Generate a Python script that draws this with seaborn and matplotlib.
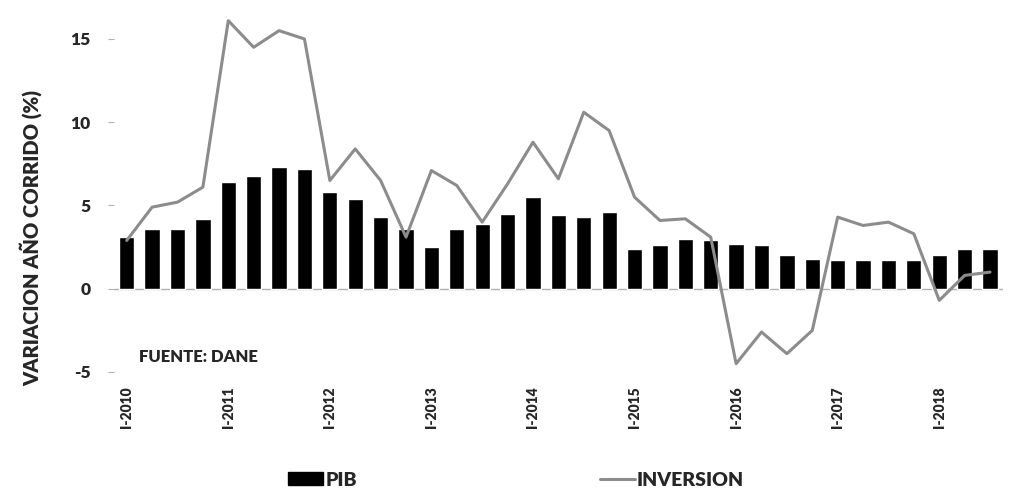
import numpy as np
import pandas as pd
import seaborn as sns
import matplotlib.pyplot as plt
from matplotlib.patches import Patch
from matplotlib.lines import Line2D

# quarterly data, I-2010 .. III-2018
roman = ["I", "II", "III", "IV"]
years = list(range(2010, 2019))
quarters = [f"{r}-{y}" for y in years for r in roman][:35]

pib = [3.1, 3.6, 3.6, 4.2, 6.4, 6.8, 7.3, 7.2, 5.8, 5.4, 4.3, 3.6,
       2.5, 3.6, 3.9, 4.5, 5.5, 4.4, 4.3, 4.6, 2.4, 2.6, 3.0, 2.9,
       2.7, 2.6, 2.0, 1.8, 1.7, 1.7, 1.7, 1.7, 2.0, 2.4, 2.4]
inversion = [2.9, 4.9, 5.2, 6.1, 16.1, 14.5, 15.5, 15.0, 6.5, 8.4, 6.5, 3.1,
             7.1, 6.2, 4.0, 6.3, 8.8, 6.6, 10.6, 9.5, 5.5, 4.1, 4.2, 3.1,
             -4.5, -2.6, -3.9, -2.5, 4.3, 3.8, 4.0, 3.3, -0.7, 0.8, 1.0]

df = pd.DataFrame({"pos": np.arange(len(quarters)), "trimestre": quarters,
                   "PIB": pib, "INVERSION": inversion})

sns.set_style("white")
plt.rcParams['font.family'] = ['Lato', 'DejaVu Sans']

W = "heavy"
fig = plt.figure(figsize=(10.18, 5.0), dpi=100)
ax = fig.add_axes([0.112, 0.256, 0.873, 0.744])

sns.barplot(data=df, x="pos", y="PIB", native_scale=True, color="black",
            width=0.6, saturation=1, ax=ax)
sns.lineplot(data=df, x="pos", y="INVERSION", color="#8c8c8c", linewidth=2.2,
             ax=ax, solid_joinstyle="round")

ax.axhline(0, color="#b0b0b0", linewidth=1.0, zorder=0.5)
ax.set_xlim(-0.5, len(quarters) - 0.5)
ax.set_ylim(-5, 17.34)

for s in ax.spines.values():
    s.set_visible(False)

ax.set_yticks([-5, 0, 5, 10, 15])
ax.set_yticklabels(["-5", "0", "5", "10", "15"], fontsize=12.5, fontweight=W)
ax.tick_params(axis="y", left=True, length=4, color="#b0b0b0", pad=13)

tick_idx = list(range(0, len(quarters), 4))
ax.set_xticks(tick_idx)
ax.set_xticklabels([quarters[i] for i in tick_idx], rotation=90,
                   fontsize=10, fontweight=W)
ax.tick_params(axis="x", bottom=False, pad=7)

ax.set_xlabel("")
ax.set_ylabel("VARIACION AÑO CORRIDO (%)", fontsize=14.5, fontweight=W)
ax.yaxis.set_label_coords(-0.081, 0.36)

ax.text(0.5, -4.1, "FUENTE: DANE", fontsize=12, fontweight=W,
        va="center", ha="left")

handles = [Patch(facecolor="black", edgecolor="black"),
           Line2D([0], [0], color="#8c8c8c", linewidth=2.2)]
fig.legend(handles, ["PIB", "INVERSION"], loc="lower center",
           bbox_to_anchor=(0.507, -0.012), ncol=2, frameon=False,
           columnspacing=12.5, handlelength=1.8,
           handleheight=0.6, handletextpad=0.1,
           prop={"weight": W, "size": 14})

fig.savefig("out.png", dpi=100, facecolor="white")
